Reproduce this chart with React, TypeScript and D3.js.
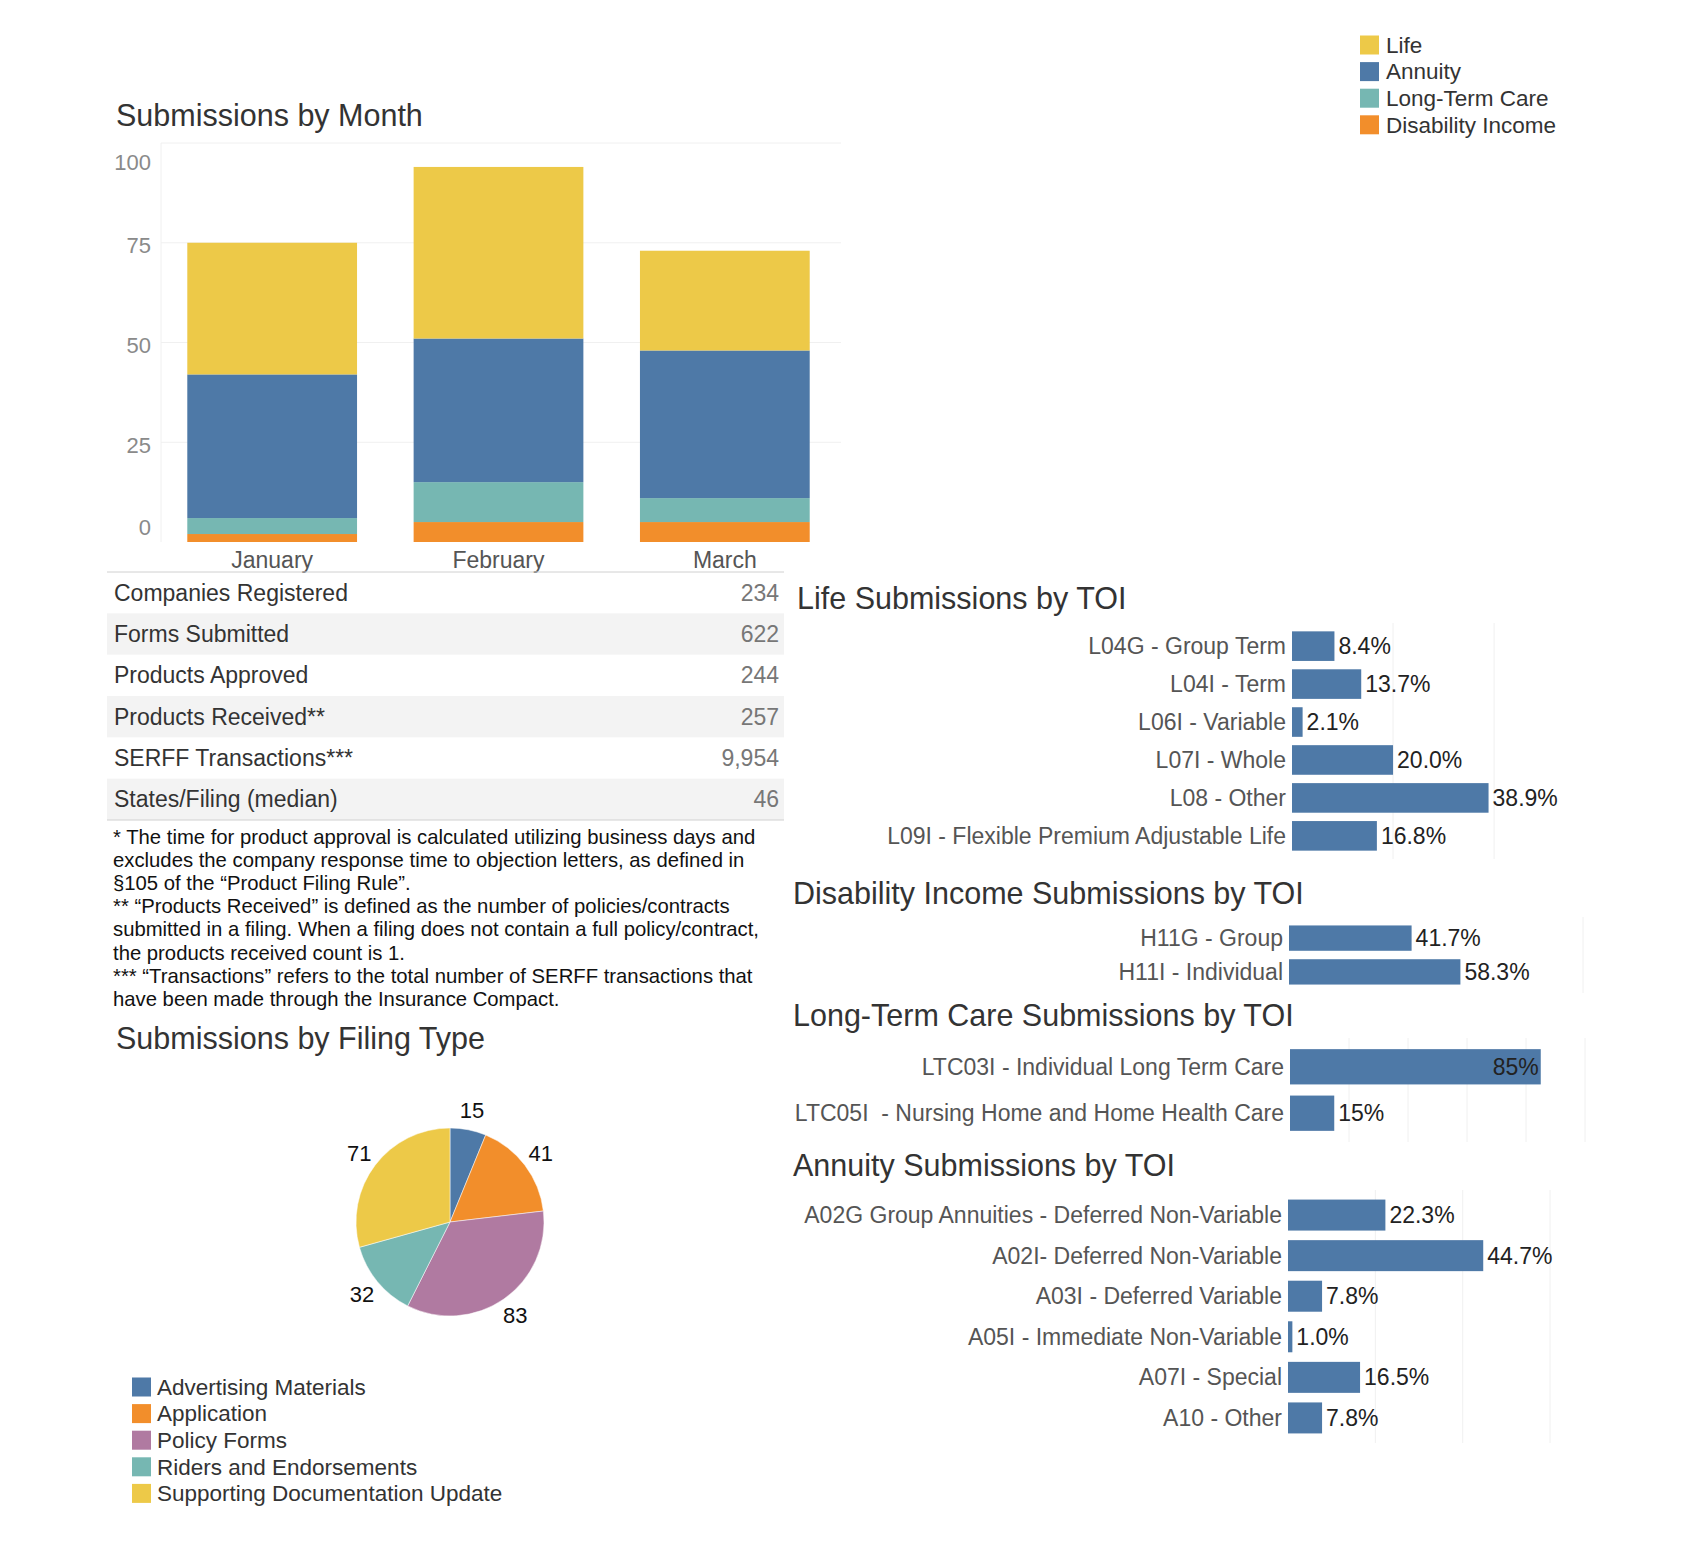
import { useEffect, useRef } from 'react';
import * as d3 from 'd3';

// Submissions by month (stacked)
const months = ['January', 'February', 'March'];
const lifeByMonth = [33, 43, 25];
const annuityByMonth = [36, 36, 37];
const ltcByMonth = [4, 10, 6];
const diByMonth = [2, 5, 5];
const monthTicks = [0, 25, 50, 75, 100];

const productLines = ['Life', 'Annuity', 'Long-Term Care', 'Disability Income'];
const productColors = ['#EDC948', '#4E79A7', '#76B7B2', '#F28E2B'];

// Summary table
const statLabels = [
  'Companies Registered',
  'Forms Submitted',
  'Products Approved',
  'Products Received**',
  'SERFF Transactions***',
  'States/Filing (median)',
];
const statValues = ['234', '622', '244', '257', '9,954', '46'];

const footnoteLines = [
  '* The time for product approval is calculated utilizing business days and',
  'excludes the company response time to objection letters, as defined in',
  '\u00a7105 of the \u201cProduct Filing Rule\u201d.',
  '** \u201cProducts Received\u201d is defined as the number of policies/contracts',
  'submitted in a filing. When a filing does not contain a full policy/contract,',
  'the products received count is 1.',
  '*** \u201cTransactions\u201d refers to the total number of SERFF transactions that',
  'have been made through the Insurance Compact.',
];

// Filing type pie
const filingTypes = [
  'Advertising Materials',
  'Application',
  'Policy Forms',
  'Riders and Endorsements',
  'Supporting Documentation Update',
];
const filingCounts = [15, 41, 83, 32, 71];
const filingColors = ['#4E79A7', '#F28E2B', '#B07AA1', '#76B7B2', '#EDC948'];

// TOI breakdowns
const lifeToi = [
  'L04G - Group Term',
  'L04I - Term',
  'L06I - Variable',
  'L07I - Whole',
  'L08 - Other',
  'L09I - Flexible Premium Adjustable Life',
];
const lifeShare = [0.084, 0.137, 0.021, 0.2, 0.389, 0.168];

const diToi = ['H11G - Group', 'H11I - Individual'];
const diShare = [0.417, 0.583];

const ltcToi = ['LTC03I - Individual Long Term Care', 'LTC05I  - Nursing Home and Home Health Care'];
const ltcShare = [0.85, 0.15];

const annuityToi = [
  'A02G Group Annuities - Deferred Non-Variable',
  'A02I- Deferred Non-Variable',
  'A03I - Deferred Variable',
  'A05I - Immediate Non-Variable',
  'A07I - Special',
  'A10 - Other',
];
const annuityShare = [0.223, 0.447, 0.078, 0.01, 0.165, 0.078];

const FONT = "Arial, 'Liberation Sans', sans-serif";
const BAR_BLUE = '#4E79A7';

export default function App() {
  const svgRef = useRef<SVGSVGElement>(null);

  useEffect(() => {
    if (!svgRef.current) return;
    const svg = d3.select(svgRef.current);
    svg.selectAll('*').remove();
    svg.style('font-family', FONT);

    const title = (x: number, y: number, t: string) =>
      svg.append('text').attr('x', x).attr('y', y).attr('fill', '#333')
        .style('font-size', '30.5px').text(t);

    // ---------- top legend ----------
    const legend = svg.append('g').attr('transform', 'translate(1360,45)');
    productLines.forEach((name, i) => {
      const row = legend.append('g').attr('transform', `translate(0,${i * 26.6})`);
      row.append('rect').attr('x', 0).attr('y', -9.5).attr('width', 19).attr('height', 19)
        .attr('fill', productColors[i]);
      row.append('text').attr('x', 26).attr('dy', '0.35em').attr('fill', '#333')
        .style('font-size', '22.5px').text(name);
    });

    // ---------- Submissions by Month ----------
    title(116, 126, 'Submissions by Month');

    const x = d3.scaleBand<string>().domain(months).range([159, 838])
      .paddingInner(0.25).paddingOuter(0.125);
    const y = d3.scaleLinear().domain([0, 100]).range([542, 143]);

    const rows = months.map((m, i) => ({
      month: m,
      di: diByMonth[i],
      ltc: ltcByMonth[i],
      annuity: annuityByMonth[i],
      life: lifeByMonth[i],
    }));
    const keys = ['di', 'ltc', 'annuity', 'life'];
    const keyColor: Record<string, string> = {
      life: productColors[0], annuity: productColors[1], ltc: productColors[2], di: productColors[3],
    };
    const stacked = d3.stack<any>().keys(keys)(rows);

    const bc = svg.append('g');
    // pane + gridlines
    bc.append('g').selectAll('line').data(monthTicks.filter(t => t > 0)).enter().append('line')
      .attr('x1', 161).attr('x2', 841).attr('y1', d => y(d)).attr('y2', d => y(d))
      .attr('stroke', '#f0f0f0').attr('stroke-width', 1);
    bc.append('line').attr('x1', 161).attr('x2', 161).attr('y1', y(100)).attr('y2', y(0))
      .attr('stroke', '#f0f0f0');

    stacked.forEach(layer => {
      bc.append('g').selectAll('rect').data(layer).enter().append('rect')
        .attr('x', d => x(d.data.month) as number)
        .attr('width', x.bandwidth())
        .attr('y', d => y(d[1]))
        .attr('height', d => y(d[0]) - y(d[1]))
        .attr('fill', keyColor[layer.key]);
    });

    // y tick labels (Tableau pulls the end labels inside the pane)
    bc.append('g').selectAll('text').data(monthTicks).enter().append('text')
      .attr('x', 151)
      .attr('y', d => Math.min(Math.max(y(d) + 3, 162), 527))
      .attr('text-anchor', 'end').attr('dominant-baseline', 'central')
      .attr('fill', '#8a8a8a').style('font-size', '22px')
      .text(d => d);

    bc.append('g').selectAll('text').data(months).enter().append('text')
      .attr('x', d => (x(d) as number) + x.bandwidth() / 2)
      .attr('y', 560).attr('text-anchor', 'middle').attr('dominant-baseline', 'central')
      .attr('fill', '#555').style('font-size', '23px')
      .text(d => d);

    // ---------- summary table ----------
    const tbl = svg.append('g');
    const rowY = d3.scaleBand<number>().domain(d3.range(statLabels.length)).range([572, 820]);
    tbl.selectAll('rect').data(d3.range(statLabels.length).filter(i => i % 2 === 1)).enter()
      .append('rect')
      .attr('x', 107).attr('width', 677)
      .attr('y', d => rowY(d) as number).attr('height', rowY.bandwidth())
      .attr('fill', '#f3f3f3');
    tbl.append('line').attr('x1', 107).attr('x2', 784).attr('y1', 572).attr('y2', 572)
      .attr('stroke', '#d0d0d0');
    tbl.append('line').attr('x1', 107).attr('x2', 784).attr('y1', 820).attr('y2', 820)
      .attr('stroke', '#d0d0d0');
    statLabels.forEach((lab, i) => {
      const cy = (rowY(i) as number) + rowY.bandwidth() / 2;
      tbl.append('text').attr('x', 114).attr('y', cy).attr('dominant-baseline', 'central')
        .attr('fill', '#333').style('font-size', '23px').text(lab);
      tbl.append('text').attr('x', 779).attr('y', cy).attr('dominant-baseline', 'central')
        .attr('text-anchor', 'end').attr('fill', '#777').style('font-size', '23px')
        .text(statValues[i]);
    });

    // footnotes
    const fn = svg.append('g');
    footnoteLines.forEach((line, i) => {
      fn.append('text').attr('x', 113).attr('y', 844 + i * 23.1).attr('fill', '#111')
        .style('font-size', '20.3px').text(line);
    });

    // ---------- Submissions by Filing Type ----------
    title(116, 1049, 'Submissions by Filing Type');
    const pieData = d3.pie<number>().sort(null).value(d => d)(filingCounts);
    const arc = d3.arc<d3.PieArcDatum<number>>().innerRadius(0).outerRadius(94);
    const labelArc = d3.arc<d3.PieArcDatum<number>>().innerRadius(114).outerRadius(114);
    const pg = svg.append('g').attr('transform', 'translate(450,1222)');
    pg.selectAll('path').data(pieData).enter().append('path')
      .attr('d', arc)
      .attr('fill', (_d, i) => filingColors[i])
      .attr('stroke', '#fff').attr('stroke-width', 0.5);
    pg.selectAll('text').data(pieData).enter().append('text')
      .attr('transform', d => `translate(${labelArc.centroid(d)})`)
      .attr('text-anchor', 'middle').attr('dominant-baseline', 'central')
      .attr('fill', '#111').style('font-size', '22px')
      .text(d => d.data);

    const pl = svg.append('g').attr('transform', 'translate(132,1387)');
    filingTypes.forEach((name, i) => {
      const row = pl.append('g').attr('transform', `translate(0,${i * 26.6})`);
      row.append('rect').attr('x', 0).attr('y', -9.5).attr('width', 19).attr('height', 19)
        .attr('fill', filingColors[i]);
      row.append('text').attr('x', 25).attr('dy', '0.35em').attr('fill', '#333')
        .style('font-size', '22.5px').text(name);
    });

    // ---------- TOI bar charts ----------
    const drawToi = (opts: {
      heading: string; headingX: number; headingY: number; labels: string[]; values: number[];
      top: number; bottom: number; left: number; right: number; max: number;
      grid: number[]; decimals: number; pad: number;
    }) => {
      title(opts.headingX, opts.headingY, opts.heading);
      const g = svg.append('g');
      const xs = d3.scaleLinear().domain([0, opts.max]).range([opts.left, opts.right]);
      const ys = d3.scaleBand<string>().domain(opts.labels).range([opts.top, opts.bottom])
        .padding(opts.pad);
      const fmt = d3.format(`.${opts.decimals}%`);

      g.selectAll('line.grid').data(opts.grid).enter().append('line')
        .attr('class', 'grid')
        .attr('x1', d => xs(d)).attr('x2', d => xs(d))
        .attr('y1', opts.top).attr('y2', opts.bottom)
        .attr('stroke', '#f0f0f0');

      g.selectAll('rect').data(opts.values).enter().append('rect')
        .attr('x', xs(0))
        .attr('y', (_d, i) => ys(opts.labels[i]) as number)
        .attr('height', ys.bandwidth())
        .attr('width', d => xs(d) - xs(0))
        .attr('fill', BAR_BLUE);

      g.selectAll('text.cat').data(opts.labels).enter().append('text')
        .attr('class', 'cat')
        .attr('x', opts.left - 6)
        .attr('y', d => (ys(d) as number) + ys.bandwidth() / 2)
        .attr('text-anchor', 'end').attr('dominant-baseline', 'central')
        .attr('fill', '#555').style('font-size', '23px').style('white-space', 'pre')
        .text(d => d);

      g.selectAll('text.val').data(opts.values).enter().append('text')
        .attr('class', 'val')
        .attr('x', d => (xs(d) + 60 > opts.right ? xs(d) - 2 : xs(d) + 4))
        .attr('text-anchor', d => (xs(d) + 60 > opts.right ? 'end' : 'start'))
        .attr('y', (_d, i) => (ys(opts.labels[i]) as number) + ys.bandwidth() / 2)
        .attr('dominant-baseline', 'central')
        .attr('fill', '#222').style('font-size', '23px')
        .text(d => fmt(d));
    };

    drawToi({
      heading: 'Life Submissions by TOI', headingX: 797, headingY: 609,
      labels: lifeToi, values: lifeShare,
      top: 623, bottom: 859, left: 1292, right: 1580, max: 0.57,
      grid: [0.2, 0.4], decimals: 1, pad: 0.22,
    });
    drawToi({
      heading: 'Disability Income Submissions by TOI', headingX: 793, headingY: 904,
      labels: diToi, values: diShare,
      top: 917, bottom: 993, left: 1289, right: 1583, max: 1,
      grid: [1], decimals: 1, pad: 0.25,
    });
    drawToi({
      heading: 'Long-Term Care Submissions by TOI', headingX: 793, headingY: 1026,
      labels: ltcToi, values: ltcShare,
      top: 1038, bottom: 1142, left: 1290, right: 1585, max: 1,
      grid: [0.2, 0.4, 0.6, 0.8, 1], decimals: 0, pad: 0.24,
    });
    drawToi({
      heading: 'Annuity Submissions by TOI', headingX: 793, headingY: 1176,
      labels: annuityToi, values: annuityShare,
      top: 1190, bottom: 1443, left: 1288, right: 1578, max: 0.664,
      grid: [0.2, 0.4, 0.6], decimals: 1, pad: 0.236,
    });
  }, []);

  return (
    <div style={{ position: 'absolute', left: 0, top: 0 }}>
      <svg ref={svgRef} width={1700} height={1549} style={{ display: 'block', background: '#fff' }} />
    </div>
  );
}
